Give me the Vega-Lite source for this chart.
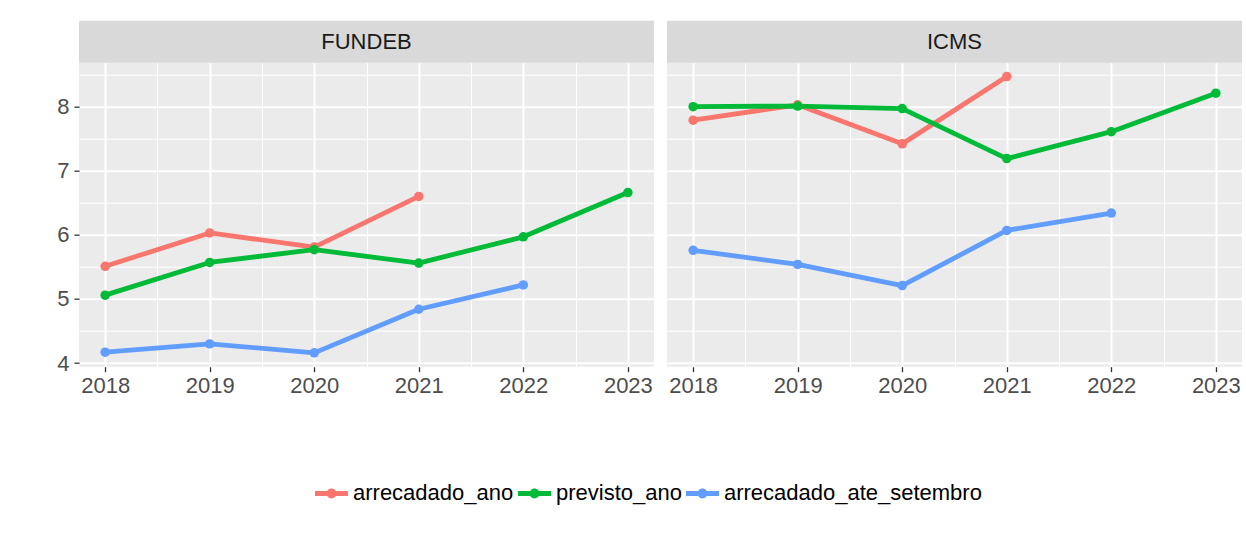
{
  "$schema": "https://vega.github.io/schema/vega-lite/v6.json",
  "background": "white",
  "padding": {"left": 56, "top": 20.7, "right": 0, "bottom": 0},
  "data": {
    "values": [
      {"imposto": "FUNDEB", "serie": "arrecadado_ano", "ano": 2018, "valor": 5.51},
      {"imposto": "FUNDEB", "serie": "arrecadado_ano", "ano": 2019, "valor": 6.03},
      {"imposto": "FUNDEB", "serie": "arrecadado_ano", "ano": 2020, "valor": 5.81},
      {"imposto": "FUNDEB", "serie": "arrecadado_ano", "ano": 2021, "valor": 6.60},
      {"imposto": "ICMS", "serie": "arrecadado_ano", "ano": 2018, "valor": 7.79},
      {"imposto": "ICMS", "serie": "arrecadado_ano", "ano": 2019, "valor": 8.03},
      {"imposto": "ICMS", "serie": "arrecadado_ano", "ano": 2020, "valor": 7.42},
      {"imposto": "ICMS", "serie": "arrecadado_ano", "ano": 2021, "valor": 8.47},
      {"imposto": "FUNDEB", "serie": "previsto_ano", "ano": 2018, "valor": 5.06},
      {"imposto": "FUNDEB", "serie": "previsto_ano", "ano": 2019, "valor": 5.57},
      {"imposto": "FUNDEB", "serie": "previsto_ano", "ano": 2020, "valor": 5.77},
      {"imposto": "FUNDEB", "serie": "previsto_ano", "ano": 2021, "valor": 5.56},
      {"imposto": "FUNDEB", "serie": "previsto_ano", "ano": 2022, "valor": 5.97},
      {"imposto": "FUNDEB", "serie": "previsto_ano", "ano": 2023, "valor": 6.66},
      {"imposto": "ICMS", "serie": "previsto_ano", "ano": 2018, "valor": 8.00},
      {"imposto": "ICMS", "serie": "previsto_ano", "ano": 2019, "valor": 8.01},
      {"imposto": "ICMS", "serie": "previsto_ano", "ano": 2020, "valor": 7.97},
      {"imposto": "ICMS", "serie": "previsto_ano", "ano": 2021, "valor": 7.19},
      {"imposto": "ICMS", "serie": "previsto_ano", "ano": 2022, "valor": 7.61},
      {"imposto": "ICMS", "serie": "previsto_ano", "ano": 2023, "valor": 8.21},
      {"imposto": "FUNDEB", "serie": "arrecadado_ate_setembro", "ano": 2018, "valor": 4.17},
      {"imposto": "FUNDEB", "serie": "arrecadado_ate_setembro", "ano": 2019, "valor": 4.30},
      {"imposto": "FUNDEB", "serie": "arrecadado_ate_setembro", "ano": 2020, "valor": 4.16},
      {"imposto": "FUNDEB", "serie": "arrecadado_ate_setembro", "ano": 2021, "valor": 4.84},
      {"imposto": "FUNDEB", "serie": "arrecadado_ate_setembro", "ano": 2022, "valor": 5.22},
      {"imposto": "ICMS", "serie": "arrecadado_ate_setembro", "ano": 2018, "valor": 5.76},
      {"imposto": "ICMS", "serie": "arrecadado_ate_setembro", "ano": 2019, "valor": 5.54},
      {"imposto": "ICMS", "serie": "arrecadado_ate_setembro", "ano": 2020, "valor": 5.21},
      {"imposto": "ICMS", "serie": "arrecadado_ate_setembro", "ano": 2021, "valor": 6.07},
      {"imposto": "ICMS", "serie": "arrecadado_ate_setembro", "ano": 2022, "valor": 6.34}
    ]
  },
  "spacing": 13,
  "bounds": "flush",
  "hconcat": [
    {
      "width": 575,
      "height": 304,
      "transform": [{"filter": "datum.imposto === 'FUNDEB'"}],
      "resolve": {"axis": {"x": "independent", "y": "independent"}},
      "layer": [
        {
          "mark": {"type": "line", "strokeWidth": 4.8, "strokeCap": "butt", "strokeJoin": "round"},
          "encoding": {
            "x": {
              "field": "ano", "type": "quantitative",
              "scale": {"domain": [2017.75, 2023.25], "nice": false, "zero": false},
              "axis": {"title": null, "orient": "bottom", "grid": false, "values": [2018, 2019, 2020, 2021, 2022, 2023], "format": "d"}
            },
            "y": {
              "field": "valor", "type": "quantitative",
              "scale": {"domain": [3.944, 8.686], "nice": false, "zero": false},
              "axis": {"title": null, "orient": "left", "grid": false, "values": [4, 5, 6, 7, 8], "format": "d"}
            },
            "color": {
              "field": "serie", "type": "nominal",
              "scale": {"domain": ["arrecadado_ano", "previsto_ano", "arrecadado_ate_setembro"], "range": ["#F8766D", "#00BA38", "#619CFF"]}
            }
          }
        },
        {
          "mark": {"type": "point", "filled": true, "size": 90, "opacity": 1},
          "encoding": {
            "x": {
              "field": "ano", "type": "quantitative",
              "axis": {
                "title": null, "orient": "top", "labels": false, "ticks": false, "domain": false, "grid": true,
                "values": [2018, 2018.5, 2019, 2019.5, 2020, 2020.5, 2021, 2021.5, 2022, 2022.5, 2023],
                "tickCount": 40,
                "gridWidth": {"condition": {"test": "datum.value % 1 === 0", "value": 2}, "value": 1}
              }
            },
            "y": {
              "field": "valor", "type": "quantitative",
              "axis": {
                "title": null, "orient": "right", "labels": false, "ticks": false, "domain": false, "grid": true,
                "values": [4, 4.5, 5, 5.5, 6, 6.5, 7, 7.5, 8, 8.5],
                "tickCount": 40,
                "gridWidth": {"condition": {"test": "datum.value % 1 === 0", "value": 2}, "value": 1}
              }
            },
            "color": {"field": "serie", "type": "nominal"}
          }
        },
        {
          "transform": [{"aggregate": [{"op": "count", "as": "n"}], "groupby": ["imposto"]}],
          "mark": {"type": "rect", "fill": "#D9D9D9", "stroke": null},
          "encoding": {
            "x": {"datum": 2017.75, "type": "quantitative", "axis": null},
            "x2": {"datum": 2023.25},
            "y": {"datum": 8.686, "type": "quantitative", "axis": null},
            "y2": {"datum": 9.341}
          }
        },
        {
          "transform": [{"aggregate": [{"op": "count", "as": "n"}], "groupby": ["imposto"]}],
          "mark": {"type": "text", "fontSize": 22, "color": "#1A1A1A", "baseline": "middle", "align": "center"},
          "encoding": {
            "x": {"datum": 2020.5, "type": "quantitative", "axis": null},
            "y": {"datum": 9.013, "type": "quantitative", "axis": null},
            "text": {"field": "imposto", "type": "nominal"}
          }
        }
      ]
    },
    {
      "width": 575,
      "height": 304,
      "transform": [{"filter": "datum.imposto === 'ICMS'"}],
      "resolve": {"axis": {"x": "independent", "y": "independent"}},
      "layer": [
        {
          "mark": {"type": "line", "strokeWidth": 4.8, "strokeCap": "butt", "strokeJoin": "round"},
          "encoding": {
            "x": {
              "field": "ano", "type": "quantitative",
              "scale": {"domain": [2017.75, 2023.25], "nice": false, "zero": false},
              "axis": {"title": null, "orient": "bottom", "grid": false, "values": [2018, 2019, 2020, 2021, 2022, 2023], "format": "d"}
            },
            "y": {
              "field": "valor", "type": "quantitative",
              "scale": {"domain": [3.944, 8.686], "nice": false, "zero": false},
              "axis": null
            },
            "color": {
              "field": "serie", "type": "nominal",
              "scale": {"domain": ["arrecadado_ano", "previsto_ano", "arrecadado_ate_setembro"], "range": ["#F8766D", "#00BA38", "#619CFF"]}
            }
          }
        },
        {
          "mark": {"type": "point", "filled": true, "size": 90, "opacity": 1},
          "encoding": {
            "x": {
              "field": "ano", "type": "quantitative",
              "axis": {
                "title": null, "orient": "top", "labels": false, "ticks": false, "domain": false, "grid": true,
                "values": [2018, 2018.5, 2019, 2019.5, 2020, 2020.5, 2021, 2021.5, 2022, 2022.5, 2023],
                "tickCount": 40,
                "gridWidth": {"condition": {"test": "datum.value % 1 === 0", "value": 2}, "value": 1}
              }
            },
            "y": {
              "field": "valor", "type": "quantitative",
              "axis": {
                "title": null, "orient": "right", "labels": false, "ticks": false, "domain": false, "grid": true,
                "values": [4, 4.5, 5, 5.5, 6, 6.5, 7, 7.5, 8, 8.5],
                "tickCount": 40,
                "gridWidth": {"condition": {"test": "datum.value % 1 === 0", "value": 2}, "value": 1}
              }
            },
            "color": {"field": "serie", "type": "nominal"}
          }
        },
        {
          "transform": [{"aggregate": [{"op": "count", "as": "n"}], "groupby": ["imposto"]}],
          "mark": {"type": "rect", "fill": "#D9D9D9", "stroke": null},
          "encoding": {
            "x": {"datum": 2017.75, "type": "quantitative", "axis": null},
            "x2": {"datum": 2023.25},
            "y": {"datum": 8.686, "type": "quantitative", "axis": null},
            "y2": {"datum": 9.341}
          }
        },
        {
          "transform": [{"aggregate": [{"op": "count", "as": "n"}], "groupby": ["imposto"]}],
          "mark": {"type": "text", "fontSize": 22, "color": "#1A1A1A", "baseline": "middle", "align": "center"},
          "encoding": {
            "x": {"datum": 2020.5, "type": "quantitative", "axis": null},
            "y": {"datum": 9.013, "type": "quantitative", "axis": null},
            "text": {"field": "imposto", "type": "nominal"}
          }
        }
      ]
    }
  ],
  "resolve": {"scale": {"color": "shared"}, "legend": {"color": "shared"}},
  "config": {
    "font": "Liberation Sans",
    "view": {"fill": "#EBEBEB", "stroke": null},
    "axis": {
      "domain": false,
      "gridColor": "#FFFFFF",
      "gridOpacity": 1,
      "tickColor": "#333333",
      "tickWidth": 1.3,
      "tickSize": 5,
      "labelColor": "#4D4D4D",
      "labelFontSize": 22,
      "labelPadding": 5
    },
    "axisX": {"labelPadding": 4},
    "legend": {
      "title": null,
      "orient": "bottom",
      "direction": "horizontal",
      "symbolType": "M-1,-0.15H1V0.15H-1Z M-0.3,0A0.3,0.3,0,1,1,0.3,0A0.3,0.3,0,1,1,-0.3,0Z",
      "symbolSize": 1089,
      "symbolStrokeWidth": 0,
      "labelFontSize": 22,
      "labelColor": "#000000",
      "labelLimit": 400,
      "labelOffset": 5,
      "columnPadding": 4,
      "offset": 80,
      "padding": 0,
      "layout": {"bottom": {"anchor": "middle"}}
    }
  }
}
